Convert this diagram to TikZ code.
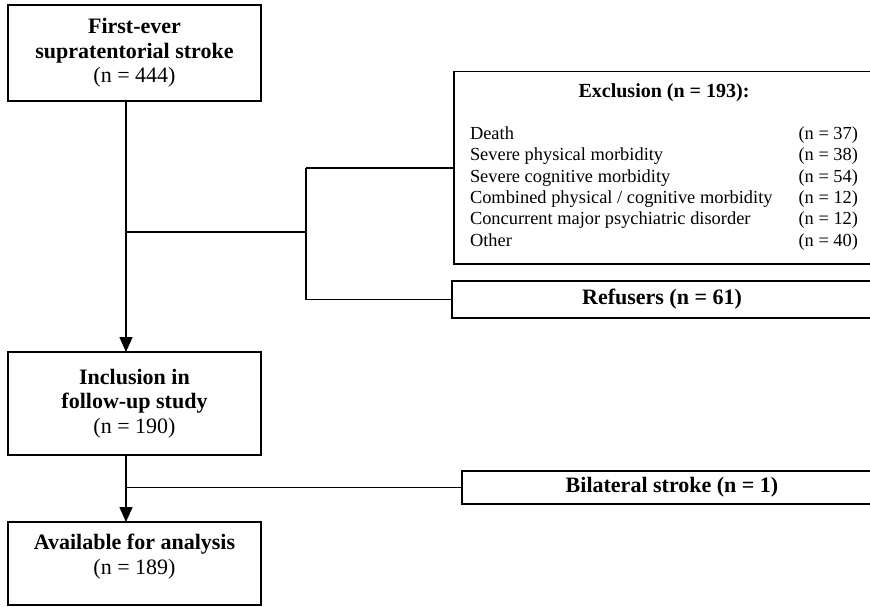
\documentclass[tikz,border=0pt]{standalone}
\usepackage{fontspec}
\setmainfont{Liberation Serif}
\usetikzlibrary{arrows.meta, positioning}

\begin{document}
\begin{tikzpicture}[
    x=0.5pt, y=-0.5pt,
    box/.style={draw, line width=0.75pt, minimum width=126.5pt, align=center, inner sep=0pt, outer sep=0pt, font=\fontsize{11}{12.3}\selectfont},
    side/.style={draw, line width=0.75pt, minimum width=210pt, anchor=north west, align=center, inner sep=0pt, outer sep=0pt},
    arr/.style={-{Triangle[width=6.5pt, length=7.5pt]}, line width=0.75pt},
    lnk/.style={line width=0.75pt},
]
\useasboundingbox (0,0) rectangle (870,606);
\clip (0,0) rectangle (870,606);

% Main stream
\node[box, minimum height=48pt, anchor=north west] (first) at (8,5) {\textbf{First-ever}\\\textbf{supratentorial stroke}\\(n = 444)};
\node[box, minimum height=51.5pt, below=125.5pt of first] (incl) {\textbf{Inclusion in}\\\textbf{follow-up study}\\(n = 190)};
\node[box, minimum height=41.5pt, below=33.5pt of incl] (avail) {\textbf{Available for analysis}\\(n = 189)\rule[-9.5pt]{0pt}{1pt}};

% Drop-outs
\node[side, minimum height=96.25pt] (excl) at (454,71.5) {\fontsize{9.2}{10.7}\selectfont
  \begin{tabular*}{194pt}{@{}l@{\extracolsep{\fill}}l@{}}
  \multicolumn{2}{c}{\fontsize{10}{12}\selectfont\bfseries Exclusion (n = 193):}\\[10pt]
  Death & (n = 37)\\
  Severe physical morbidity & (n = 38)\\
  Severe cognitive morbidity & (n = 54)\\
  Combined physical / cognitive morbidity & (n = 12)\\
  Concurrent major psychiatric disorder & (n = 12)\\
  Other & (n = 40)
  \end{tabular*}};
\node[side, minimum height=18.5pt, font=\fontsize{11}{12.3}\selectfont\bfseries] (ref) at (452,281) {Refusers (n = 61)};
\node[side, minimum height=16.5pt, font=\fontsize{11}{12.3}\selectfont\bfseries] (bil) at (462,471) {Bilateral stroke (n = 1)};

% Connections
\coordinate (top1) at ([xshift=-4.25pt]first.south);
\coordinate (top2) at ([xshift=-4.25pt]incl.south);
\coordinate (fork) at (306,232);
\draw[arr] (top1) -- (top1 |- incl.north);
\draw[lnk] (top1 |- fork) -- (fork);
\draw[lnk] (excl.west -| fork) -- (ref.west -| fork);
\draw[lnk] (excl.west -| fork) -- (excl.west);
\draw[lnk] (ref.west -| fork) -- (ref.west);
\draw[arr] (top2) -- (top2 |- avail.north);
\draw[lnk] (top2 |- bil.west) -- (bil.west);
\end{tikzpicture}
\end{document}
